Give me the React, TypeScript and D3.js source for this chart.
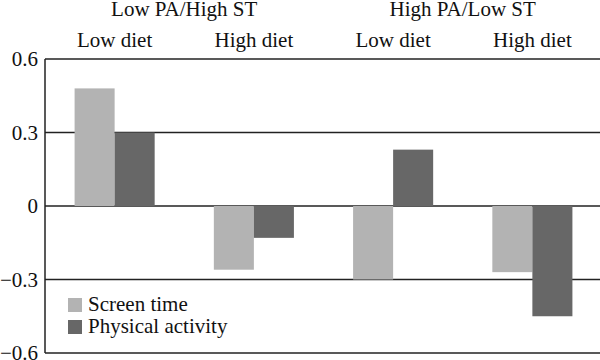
import React from "react";
import * as d3 from "d3";

const groups = ["Low PA/High ST", "High PA/Low ST"];
const categories = ["Low diet", "High diet", "Low diet", "High diet"];
const categoryGroup = [0, 0, 1, 1];
const seriesNames = ["Screen time", "Physical activity"];
const screenTime = [0.48, -0.26, -0.3, -0.27];
const physicalActivity = [0.3, -0.13, 0.23, -0.45];
const tickValues = [0.6, 0.3, 0, -0.3, -0.6];
const tickLabels = ["0.6", "0.3", "0", "\u22120.3", "\u22120.6"];
const colors = ["#b3b3b3", "#676767"];

const W = 600;
const H = 360;
const margin = { left: 45, right: -2, top: 59, bottom: 7 };
const FONT = "'Liberation Serif'";
const textStyle = { fontFamily: FONT, fontSize: "21px" };

export default function App() {
  const y = d3.scaleLinear().domain([-0.6, 0.6]).range([H - margin.bottom, margin.top]);
  const x = d3
    .scaleBand<number>()
    .domain(d3.range(categories.length))
    .range([margin.left, W - margin.right])
    .paddingInner(0.425)
    .paddingOuter(0.2125);
  const xs = d3.scaleBand<number>().domain([0, 1]).range([0, x.bandwidth()]);
  const series = [screenTime, physicalActivity];

  return (
    <svg
      width={W}
      height={H}
      style={{ position: "absolute", left: 0, top: 0, display: "block", background: "#fff" }}
    >
      {tickValues.map((t, i) => (
        <g key={i}>
          <line x1={margin.left} x2={W} y1={y(t)} y2={y(t)} stroke="#222" strokeWidth={1.5} />
          <text
            x={margin.left - 7}
            y={y(t)}
            dy="0.35em"
            textAnchor="end"
            style={textStyle}
            fill="#111"
          >
            {tickLabels[i]}
          </text>
        </g>
      ))}
      {series.map((vals, s) =>
        vals.map((v, i) => (
          <rect
            key={`${s}-${i}`}
            x={(x(i) as number) + (xs(s) as number)}
            width={xs.bandwidth()}
            y={y(Math.max(0, v))}
            height={Math.abs(y(v) - y(0))}
            fill={colors[s]}
          />
        ))
      )}
      <line x1={margin.left} x2={margin.left} y1={y(0.6)} y2={y(-0.6)} stroke="#222" strokeWidth={1.5} />
      {categories.map((c, i) => (
        <text
          key={i}
          x={(x(i) as number) + x.bandwidth() / 2}
          y={46.5}
          textAnchor="middle"
          style={textStyle}
          fill="#111"
        >
          {c}
        </text>
      ))}
      {groups.map((g, gi) => {
        const idx = categories.map((_, i) => i).filter((i) => categoryGroup[i] === gi);
        const cx =
          d3.mean(idx, (i) => (x(i) as number) + x.bandwidth() / 2) as number;
        return (
          <text key={gi} x={cx} y={15.5} textAnchor="middle" style={textStyle} fill="#111">
            {g}
          </text>
        );
      })}
      {seriesNames.map((n, i) => (
        <g key={i} transform={`translate(68, ${298 + i * 22})`}>
          <rect width={14} height={14} fill={colors[i]} />
          <text x={20} y={13} style={textStyle} fill="#111">
            {n}
          </text>
        </g>
      ))}
    </svg>
  );
}
